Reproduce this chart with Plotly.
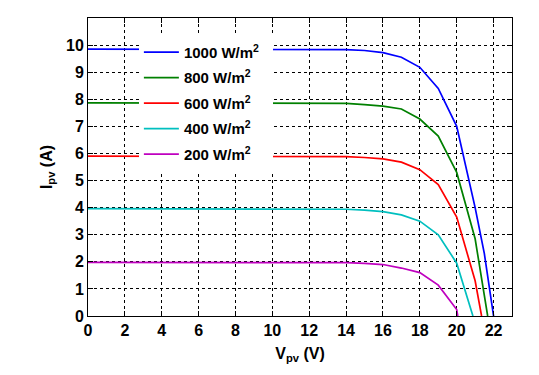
import plotly.graph_objects as go

# I-V curves of a PV module at different irradiance levels
labels = ["1000 W/m<sup>2</sup>", "800 W/m<sup>2</sup>", "600 W/m<sup>2</sup>",
          "400 W/m<sup>2</sup>", "200 W/m<sup>2</sup>"]
colors = ["#0000FF", "#008000", "#FF0000", "#00BFBF", "#BF00BF"]

v_1000 = [0, 14, 15, 16, 17, 18, 19, 20, 21, 21.5, 22.0]
i_1000 = [9.85, 9.83, 9.8, 9.72, 9.55, 9.18, 8.4, 7.0, 4.0, 2.3, 0]

v_800 = [0, 14, 15, 16, 17, 18, 19, 20, 21, 21.68]
i_800 = [7.87, 7.85, 7.8, 7.75, 7.64, 7.27, 6.64, 5.3, 2.85, 0]

v_600 = [0, 14, 15, 16, 17, 18, 19, 20, 21, 21.35]
i_600 = [5.9, 5.88, 5.85, 5.8, 5.68, 5.4, 4.85, 3.65, 1.3, 0]

v_400 = [0, 14, 15, 16, 17, 18, 19, 20, 20.88]
i_400 = [3.96, 3.94, 3.91, 3.85, 3.73, 3.5, 3.0, 1.95, 0]

v_200 = [0, 14, 15, 16, 17, 18, 19, 20, 20.06]
i_200 = [1.98, 1.97, 1.94, 1.9, 1.77, 1.6, 1.14, 0.24, 0]

x_ticks = list(range(0, 23, 2))
y_ticks = list(range(0, 11))

volts = [v_1000, v_800, v_600, v_400, v_200]
amps = [i_1000, i_800, i_600, i_400, i_200]

fig = go.Figure()
for k in range(5):
    fig.add_trace(go.Scatter(
        x=volts[k], y=amps[k], mode="lines", name=labels[k] + "&nbsp;&nbsp;",
        legendgroup=str(k),
        line=dict(color=colors[k], width=1.7)
    ))

bold = dict(family="Liberation Sans", size=16, color="black", weight="bold")
axis_common = dict(
    showline=True, linecolor="black", linewidth=1, mirror="ticks",
    ticks="inside", ticklen=5, tickcolor="black",
    showgrid=True, gridcolor="black", gridwidth=1, griddash="3px,3px",
    zeroline=False, automargin=False,
    tickfont=bold,
)

# page body adds 8px around the figure
fig.update_layout(
    width=523, height=359,
    margin=dict(l=80, r=19, t=10, b=51),
    paper_bgcolor="white", plot_bgcolor="white",
    xaxis=dict(range=[0, 23], tickvals=x_ticks,
               title=dict(text="V<sub>pv</sub> (V)", standoff=9, font=bold),
               **axis_common),
    yaxis=dict(range=[0, 11], tickvals=y_ticks,
               title=dict(text="I<sub>pv</sub> (A)", standoff=9, font=bold),
               **axis_common),
    legend=dict(x=0.12, y=0.94, xanchor="left", yanchor="top",
                bgcolor="white", borderwidth=0, tracegroupgap=3, itemwidth=35,
                font=dict(family="Liberation Sans", size=15, color="black", weight="bold")),
    showlegend=True,
)

fig.write_html("out.html")
